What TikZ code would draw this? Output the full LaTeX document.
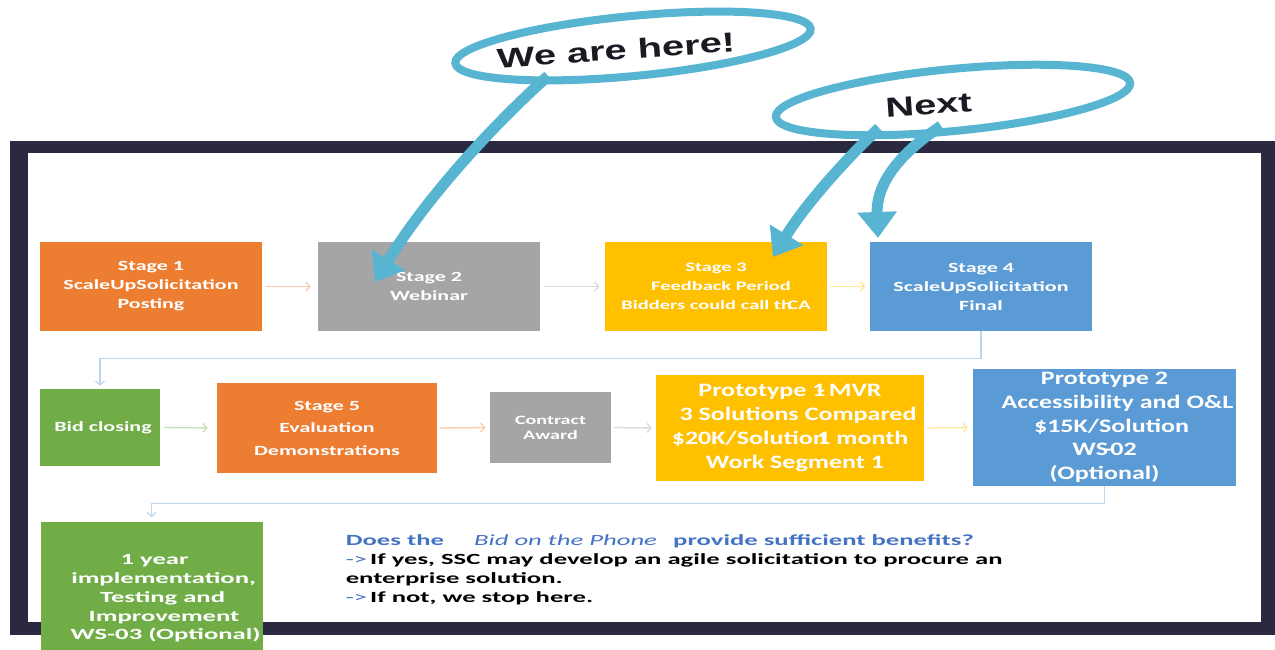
\documentclass[tikz,border=0pt]{standalone}
\usepackage{fontspec}
\usetikzlibrary{arrows.meta,shapes.geometric}
\newfontfamily\cfA[FakeStretch=1.57]{Carlito}
\newfontfamily\cfP[FakeStretch=1.37]{Carlito}
\newfontfamily\cfC[FakeStretch=1.72]{Carlito}
\newfontfamily\af[FakeStretch=1.45]{Liberation Sans}
\definecolor{frameC}{HTML}{2A2940}
\definecolor{orangeC}{HTML}{ED7D31}
\definecolor{grayC}{HTML}{A5A5A5}
\definecolor{yellowC}{HTML}{FFC000}
\definecolor{blueC}{HTML}{5B9BD5}
\definecolor{greenC}{HTML}{70AD47}
\definecolor{pOrange}{HTML}{F8CBAD}
\definecolor{pGray}{HTML}{D9D9D9}
\definecolor{pYellow}{HTML}{FFE699}
\definecolor{pBlue}{HTML}{BDD7EE}
\definecolor{pGreen}{HTML}{C5E0B4}
\definecolor{callC}{HTML}{58B5D2}
\definecolor{txtBlue}{HTML}{4472C4}
\definecolor{txtDark}{HTML}{1A1A22}
\begin{document}
\begin{tikzpicture}[x=1pt,y=-1pt,
  box/.style={rectangle, inner sep=0pt, text=white, align=center},
  stagefont/.style={font=\cfA\bfseries\fontsize{14}{19}\selectfont},
  protofont/.style={font=\cfP\bfseries\fontsize{19}{24}\selectfont},
  flow/.style={line width=1.3pt, -{Straight Barb[length=4pt,width=9pt]}},
  callout/.style={ellipse, draw=callC, line width=8pt, inner sep=0pt},
  callarrow/.style={draw=callC, line width=11pt, -{Triangle[length=26pt,width=38pt]}},
  calltext/.style={font=\af\bfseries\fontsize{27.5}{30}\selectfont, text=txtDark, rotate=4},
  bodytext/.style={anchor=base west, inner sep=0pt, font=\cfC\bfseries\fontsize{15.5}{19}\selectfont}
]
\useasboundingbox (0,0) rectangle (1275,650);
\clip (0,0) rectangle (1275,650);
\fill[white] (0,0) rectangle (1275,650);
% frame
\fill[frameC] (10,141) rectangle (1275,635);
\fill[white] (28,153) rectangle (1261,622);

% row 1 boxes
\node[box, stagefont, fill=orangeC, minimum width=222, minimum height=89] (s1) at (151,286.5) {Stage 1\\ScaleUpSolicitation\\Posting};
\node[box, stagefont, fill=grayC, minimum width=222, minimum height=89] (s2) at (429,286.5) {Stage 2\\Webinar};
\node[box, fill=yellowC, minimum width=222, minimum height=89, font=\cfA\bfseries\fontsize{13}{19}\selectfont] (s3) at (716,286.5) {Stage 3\\ \hspace*{10pt}Feedback Period\\Bidders could call th\kern-.35em CA};
\node[box, stagefont, fill=blueC, minimum width=222, minimum height=89] (s4) at (981,286.5) {Stage 4\\ScaleUpSolicitation\\Final};

% row 2 boxes
\node[box, stagefont, fill=greenC, minimum width=120, minimum height=77] (bid) at (100,427.5) {\hspace*{6pt}Bid closing};
\node[box, fill=orangeC, minimum width=220, minimum height=90, font=\cfA\bfseries\fontsize{14}{22.5}\selectfont] (s5) at (327,428) {Stage 5\\Evaluation\\Demonstrations};
\node[box, fill=grayC, minimum width=121, minimum height=71, font=\cfA\bfseries\fontsize{12.8}{15}\selectfont] (ca) at (550.5,427.5) {Contract\\Award};
\node[box, protofont, fill=yellowC, minimum width=268, minimum height=106] (p1) at (790,428) {Prototype 1\kern-.45em-\kern.2em MVR\\ \hspace*{16pt}3 Solutions Compared\\\$20K/Solution\kern-.5em 1 month\\ \hspace*{10pt}Work Segment 1};
\node[box, fill=blueC, minimum width=263, minimum height=117, font=\cfP\bfseries\fontsize{19}{23.7}\selectfont] (p2) at (1104.5,427.5) {Prototype 2\\ \hspace*{26pt}Accessibility and O\&L\\ \hspace*{14pt}\$15K/Solution\\WS\kern-.15em-\kern-.15em02\\(Optional)};

% row 3 box
\node[box, fill=greenC, minimum width=222, minimum height=154, font=\cfC\bfseries\fontsize{15.5}{18.8}\selectfont] (g3) at (151.6,598.5) {\hspace*{6pt}1 year\\ \hspace*{24pt}implementation,\\ \hspace*{22pt}Testing and\\ \hspace*{25pt}Improvement\\ \hspace*{28pt}WS-03 (Optional)};

% flow connectors
\draw[flow, pOrange, shorten <=3pt, shorten >=7pt] (s1.east) -- (s2.west);
\draw[flow, pGray, shorten <=3.5pt, shorten >=5.5pt] (s2.east) -- (s3.west);
\draw[flow, pYellow, shorten <=3pt, shorten >=4.5pt] (s3.east) -- (s4.west);
\draw[flow, pBlue, shorten >=3pt] (s4.south) -- ++(0,27) -| (bid.north);
\draw[flow, pGreen, shorten <=4pt, shorten >=9pt] (bid.east) -- (s5.west);
\draw[flow, pOrange, shorten <=3pt, shorten >=4.5pt] (s5.east) -- (ca.west);
\draw[flow, pGray, shorten <=3pt, shorten >=4pt] (ca.east) -- (p1.west);
\draw[flow, pYellow, shorten <=3pt, shorten >=5pt] (p1.east) -- (p2.west);
\draw[flow, pBlue, shorten >=4pt] (p2.south) -- ++(0,17) -| (g3.north);

% bottom text
\node[bodytext, text=txtBlue] (q1) at (345.6,545) {Does the};
\node[bodytext, text=txtBlue, font=\cfC\itshape\fontsize{15.5}{19}\selectfont] (q2) at (474,545) {Bid on the Phone};
\node[bodytext, text=txtBlue] (q3) at (673,545) {provide sufficient benefits?};
\node[bodytext, text=txtBlue, font=\cfC\fontsize{15.5}{19}\selectfont] (a1) at (345.6,564.5) {->};
\node[bodytext, text=black] (a1t) at (a1.base east) {\,If yes, SSC may develop an agile solicitation to procure an};
\node[bodytext, text=black] (a2) at (345.6,583.5) {enterprise solution.};
\node[bodytext, text=txtBlue, font=\cfC\fontsize{15.5}{19}\selectfont] (a3) at (345.6,602.5) {->};
\node[bodytext, text=black] (a3t) at (a3.base east) {\,If not, we stop here.};

% callouts
\node[callout, minimum width=357, minimum height=60, rotate=5.5] (we) at (633,46) {};
\node[callout, minimum width=356, minimum height=62, rotate=5.5] (nx) at (953,100) {};
\node[calltext] (wet) at (616,50) {We are here!};
\node[calltext] (nxt) at (928.5,105) {Next};

\coordinate (we1) at (548,76);
\coordinate (nx1) at (879,128);
\coordinate (nx2) at (941,126);
\coordinate (t1) at (375,282);
\coordinate (t2) at (773,257);
\coordinate (t3) at (878,238);
\draw[callarrow] (we1) .. controls (490,128) and (425,200) .. (t1);
\draw[callarrow] (nx1) .. controls (845,160) and (805,205) .. (t2);
\draw[callarrow] (nx2) .. controls (905,150) and (876,180) .. (t3);
\end{tikzpicture}
\end{document}
